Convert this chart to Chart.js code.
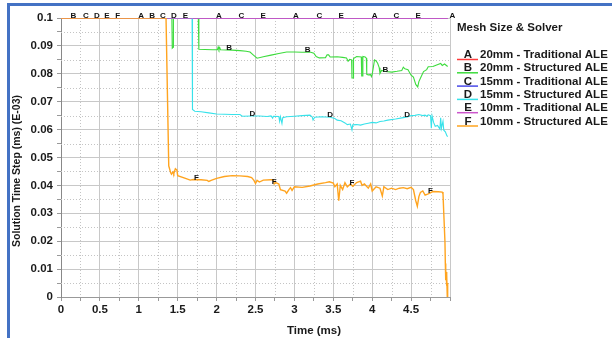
<!DOCTYPE html>
<html>
<head>
<meta charset="utf-8">
<script src="https://cdn.jsdelivr.net/npm/chart.js@4"></script>
<style>
  body { margin: 0; background: #fff; }
  #wrap { position: relative; width: 612px; height: 338px; overflow: hidden; }
  #frame { position: absolute; left: 7px; top: 3px; width: 700px; height: 400px;
           border-left: 3px solid #4472c4; border-top: 3px solid #4472c4; }
  canvas { position: absolute; left: 0; top: 0; }
</style>
</head>
<body>
<div id="wrap">
  <div id="frame"></div>
  <canvas id="myChart" width="612" height="338"></canvas>
</div>
<script>
// -------------------- Data -------------------- //

var seriesLetters = ["A", "B", "C", "D", "E", "F"];
var seriesNames = ["20mm - Traditional ALE", "20mm - Structured ALE", "15mm - Traditional ALE",
  "15mm - Structured ALE", "10mm - Traditional ALE", "10mm - Structured ALE"];
var seriesColors = ["#ff3b3b", "#3ddc3d", "#4a4ae8", "#38e2ea", "#cc55cc", "#ffa41f"];

var xLabels = ["0", "0.5", "1", "1.5", "2", "2.5", "3", "3.5", "4", "4.5"];
var yLabels = ["0", "0.01", "0.02", "0.03", "0.04", "0.05", "0.06", "0.07", "0.08", "0.09", "0.1"];

// traditional ALE runs stay at the max step
var timeA = [0, 4.97];
var stepA = [0.1, 0.1];
var timeC = [0, 4.97];
var stepC = [0.1, 0.1];
var timeE = [0, 4.97];
var stepE = [0.1, 0.1];

var timeB = [0, 1.425, 1.43, 1.44, 1.445, 1.765, 1.772, 1.85, 1.95, 2.01, 2.02, 2.03, 2.04, 2.05,
  2.2, 2.3, 2.38, 2.43, 2.47, 2.52, 2.6, 2.7, 2.8, 2.9, 3.0, 3.1, 3.2, 3.25, 3.28, 3.32, 3.4,
  3.42, 3.44, 3.46, 3.55, 3.62, 3.67, 3.69, 3.71, 3.735, 3.74, 3.755, 3.76, 3.8, 3.86, 3.865,
  3.875, 3.88, 3.91, 3.925, 3.93, 3.95, 3.98, 3.99, 4.0, 4.03, 4.05, 4.07, 4.09, 4.1, 4.12,
  4.17, 4.25, 4.32, 4.38, 4.4, 4.42, 4.46, 4.5, 4.53, 4.56, 4.585, 4.6, 4.63, 4.66, 4.7, 4.72,
  4.78, 4.82, 4.88, 4.9, 4.93, 4.97];
var stepB = [0.1, 0.1, 0.0892, 0.0895, 0.1, 0.1, 0.0888, 0.0887, 0.0886, 0.0886, 0.0896, 0.0887,
  0.0894, 0.0886, 0.0885, 0.0883, 0.0881, 0.0878, 0.0868, 0.0856, 0.0861, 0.0867, 0.0873, 0.0878,
  0.0878, 0.0877, 0.0878, 0.0874, 0.0862, 0.0857, 0.0858, 0.0868, 0.0868, 0.086, 0.0861, 0.0859,
  0.0857, 0.0845, 0.0852, 0.085, 0.0785, 0.0785, 0.0855, 0.0862, 0.086, 0.0792, 0.0792, 0.0862,
  0.086, 0.0856, 0.0798, 0.0796, 0.0797, 0.079, 0.0798, 0.085, 0.0846, 0.0838, 0.0822, 0.0801,
  0.0812, 0.0808, 0.0806, 0.0809, 0.0812, 0.0824, 0.0818, 0.0815, 0.0795, 0.0788, 0.0762,
  0.0753, 0.0772, 0.079, 0.0808, 0.0815, 0.0825, 0.0826, 0.0831, 0.0837, 0.083, 0.0835, 0.0826];

var timeD = [0, 1.685, 1.69, 1.72, 1.8, 1.9, 2.0, 2.1, 2.2, 2.3, 2.33, 2.45, 2.55, 2.65, 2.7,
  2.72, 2.73, 2.8, 2.81, 2.82, 2.84, 2.85, 2.9, 3.0, 3.1, 3.2, 3.23, 3.24, 3.26, 3.35, 3.46,
  3.52, 3.55, 3.6, 3.65, 3.68, 3.72, 3.74, 3.75, 3.8, 3.85, 3.9, 3.95, 4.0, 4.05, 4.1, 4.15,
  4.2, 4.3, 4.4, 4.45, 4.5, 4.55, 4.6, 4.65, 4.68, 4.7, 4.72, 4.75, 4.76, 4.77, 4.79, 4.81,
  4.84, 4.87, 4.88, 4.89, 4.91, 4.92, 4.94, 4.96, 4.97];
var stepD = [0.1, 0.1, 0.0672, 0.0666, 0.0664, 0.066, 0.0656, 0.0655, 0.0654, 0.0654, 0.0648,
  0.0649, 0.0649, 0.0647, 0.0649, 0.0641, 0.0648, 0.0647, 0.063, 0.0646, 0.0622, 0.0643, 0.0646,
  0.0648, 0.065, 0.0652, 0.0645, 0.0634, 0.0644, 0.0646, 0.0644, 0.064, 0.0634, 0.0632, 0.0624,
  0.0618, 0.062, 0.0599, 0.0617, 0.0618, 0.0616, 0.062, 0.0623, 0.0626, 0.0624, 0.0629, 0.0631,
  0.0634, 0.0638, 0.0643, 0.0645, 0.065, 0.0651, 0.0654, 0.065, 0.0652, 0.0648, 0.0653, 0.065,
  0.0605, 0.0649, 0.0625, 0.0612, 0.0615, 0.0602, 0.0642, 0.0605, 0.063, 0.0598, 0.0592,
  0.0578, 0.0575];

var timeF = [0, 1.35, 1.385, 1.39, 1.41, 1.42, 1.44, 1.45, 1.47, 1.49, 1.5, 1.6, 1.66, 1.7, 1.8,
  1.88, 1.9, 1.93, 2.0, 2.1, 2.2, 2.3, 2.4, 2.45, 2.48, 2.5, 2.52, 2.55, 2.6, 2.7, 2.73, 2.74,
  2.76, 2.8, 2.82, 2.88, 2.9, 2.93, 2.95, 2.97, 3.0, 3.1, 3.2, 3.3, 3.4, 3.45, 3.5, 3.52, 3.55,
  3.57, 3.59, 3.62, 3.65, 3.68, 3.72, 3.75, 3.8, 3.85, 3.87, 3.9, 3.95, 3.98, 4.0, 4.05, 4.1,
  4.13, 4.15, 4.2, 4.25, 4.3, 4.35, 4.4, 4.45, 4.5, 4.53, 4.56, 4.58, 4.6, 4.62, 4.65, 4.68,
  4.72, 4.78, 4.85, 4.9, 4.91, 4.92, 4.935, 4.94, 4.945, 4.95, 4.955, 4.96, 4.965, 4.97];
var stepF = [0.1, 0.1, 0.047, 0.0465, 0.0445, 0.044, 0.0448, 0.0442, 0.046, 0.0455, 0.0435,
  0.0425, 0.0419, 0.0421, 0.042, 0.0418, 0.0414, 0.0418, 0.0425, 0.0432, 0.0435, 0.0434, 0.0432,
  0.0428, 0.0418, 0.0407, 0.0418, 0.0412, 0.0419, 0.042, 0.042, 0.0405, 0.041, 0.0405, 0.0385,
  0.038, 0.0372, 0.0385, 0.0392, 0.0382, 0.0395, 0.0393, 0.0398, 0.0405, 0.041, 0.0413, 0.0408,
  0.0395, 0.0405, 0.0345, 0.04, 0.0385, 0.041, 0.0395, 0.0405, 0.0397, 0.041, 0.0415, 0.04,
  0.0405, 0.039, 0.0405, 0.038, 0.0395, 0.039, 0.0362, 0.0395, 0.0385, 0.039, 0.0385, 0.039,
  0.0392, 0.0388, 0.0393, 0.0385, 0.0345, 0.0325, 0.036, 0.0375, 0.038, 0.0365, 0.037, 0.0378,
  0.0377, 0.0376, 0.037, 0.03, 0.02, 0.012, 0.006, 0.009, 0.004, 0.008, 0.0, 0.005];

// curve letters (time in ms where each letter is printed on its curve)
var markerA = [1.03, 2.03, 3.02, 4.03, 5.03];
var markerB = [0.16, 1.17, 2.16, 3.17, 4.17];
var markerC = [0.32, 1.31, 2.32, 3.32, 4.31];
var markerD = [0.46, 1.45, 2.46, 3.46, 4.45];
var markerE = [0.59, 1.6, 2.6, 3.6, 4.59];
var markerF = [0.73, 1.74, 2.74, 3.74, 4.75];

var allTimes = [timeA, timeB, timeC, timeD, timeE, timeF];
var allSteps = [stepA, stepB, stepC, stepD, stepE, stepF];
var allMarkers = [markerA, markerB, markerC, markerD, markerE, markerF];
var lineWidths = [1, 1.1, 1, 1.1, 1.6, 1.4];

// -------------------- Helpers -------------------- //

function toPoints(t, s) {
  var pts = [];
  for (var i = 0; i < t.length; i++) pts.push({ x: t[i], y: s[i] });
  return pts;
}

function interp(t, s, x) {        // value of a curve at time x
  if (x <= t[0]) return s[0];
  for (var i = 0; i < t.length - 1; i++) {
    if (x >= t[i] && x <= t[i + 1]) {
      if (t[i + 1] == t[i]) return s[i];
      return s[i] + (s[i + 1] - s[i]) * (x - t[i]) / (t[i + 1] - t[i]);
    }
  }
  return s[s.length - 1];
}

function fmt(v) { return String(+v.toFixed(3)); }
function isMajorX(v) { return Math.abs(v * 2 - Math.round(v * 2)) < 1e-6; }
function isMajorY(v) { return Math.abs(v * 100 - Math.round(v * 100)) < 1e-6; }

var font = "'Liberation Sans', Arial, sans-serif";
Chart.defaults.font.family = font;
Chart.defaults.color = "#1a1a1a";

// -------------------- Plugins -------------------- //

var minorGrid = {               // dotted minor grid lines
  id: "minorGrid",
  beforeDatasetsDraw: function (chart) {
    var ctx = chart.ctx, area = chart.chartArea;
    var xs = chart.scales.x, ys = chart.scales.y;
    ctx.save();
    ctx.strokeStyle = "#c4c4c4";
    ctx.lineWidth = 1;
    ctx.setLineDash([1, 2]);
    xs.ticks.forEach(function (t) {
      if (isMajorX(t.value)) return;
      var px = Math.round(xs.getPixelForValue(t.value)) + 0.5;
      ctx.beginPath(); ctx.moveTo(px, area.top); ctx.lineTo(px, area.bottom); ctx.stroke();
    });
    ys.ticks.forEach(function (t) {
      if (isMajorY(t.value)) return;
      var py = Math.round(ys.getPixelForValue(t.value)) + 0.5;
      ctx.beginPath(); ctx.moveTo(area.left, py); ctx.lineTo(area.right, py); ctx.stroke();
    });
    ctx.restore();
  }
};

var curveLetters = {            // letters printed along each curve
  id: "curveLetters",
  afterDatasetsDraw: function (chart) {
    var ctx = chart.ctx, xs = chart.scales.x, ys = chart.scales.y;
    ctx.save();
    ctx.font = "bold 8px " + font;
    ctx.fillStyle = "#111";
    ctx.textAlign = "center";
    ctx.textBaseline = "alphabetic";
    for (var i = 0; i < allMarkers.length; i++) {
      allMarkers[i].forEach(function (x) {
        var y = interp(allTimes[i], allSteps[i], x);
        ctx.fillText(seriesLetters[i], xs.getPixelForValue(x), ys.getPixelForValue(y));
      });
    }
    ctx.restore();
  }
};

var sideLegend = {              // legend box + axis titles
  id: "sideLegend",
  afterDraw: function (chart) {
    var ctx = chart.ctx, area = chart.chartArea;
    var lx = area.right + 7;
    ctx.save();
    ctx.fillStyle = "#1a1a1a";
    ctx.font = "bold 11.5px " + font;
    ctx.textAlign = "left";
    ctx.fillText("Mesh Size & Solver", lx, 31);
    for (var i = 0; i < seriesNames.length; i++) {
      var y = 58 + i * 13.3;
      ctx.strokeStyle = seriesColors[i];
      ctx.lineWidth = 1.5;
      ctx.beginPath(); ctx.moveTo(lx, y + 1.5); ctx.lineTo(lx + 21, y + 1.5); ctx.stroke();
      ctx.textAlign = "center";
      ctx.fillText(seriesLetters[i], lx + 11, y);
      ctx.textAlign = "left";
      ctx.fillText(seriesNames[i], lx + 23, y);
    }
    ctx.textAlign = "center";
    ctx.fillText("Time (ms)", 314, 334);
    // y title is centred on the whole picture height, not on the plot
    ctx.font = "bold 10.5px " + font;
    ctx.translate(20, chart.height / 2 + 2);
    ctx.rotate(-Math.PI / 2);
    ctx.fillText("Solution Time Step (ms) (E-03)", 0, 0);
    ctx.restore();
  }
};

// -------------------- Chart -------------------- //

var datasets = [];
for (var i = 0; i < seriesLetters.length; i++) {
  datasets.push({
    label: seriesLetters[i] + " " + seriesNames[i],
    data: toPoints(allTimes[i], allSteps[i]),
    borderColor: seriesColors[i],
    borderWidth: lineWidths[i],
    pointRadius: 0,
    tension: 0,
    fill: false,
    order: seriesLetters.length - 1 - i   // F on top, A underneath
  });
}

var chart = new Chart(document.getElementById("myChart").getContext("2d"), {
  type: "line",
  data: { datasets: datasets },
  plugins: [minorGrid, curveLetters, sideLegend],
  options: {
    responsive: false,
    animation: false,
    devicePixelRatio: 1,
    layout: { padding: { left: 6, right: 162, top: 18, bottom: 0 } },
    plugins: { legend: { display: false }, tooltip: { enabled: false } },
    scales: {
      x: {
        type: "linear",
        min: 0,
        max: 5,
        afterFit: function (s) { s.height = 41; },
        ticks: {
          stepSize: 0.25,
          autoSkip: false,
          maxRotation: 0,
          minRotation: 0,
          padding: 2,
          font: { size: 11.5, weight: "bold" },
          callback: function (v) { var s = fmt(v); return xLabels.indexOf(s) >= 0 ? s : ""; }
        },
        grid: {
          color: function (c) { return isMajorX(c.tick.value) ? "#c8c8c8" : "rgba(0,0,0,0)"; },
          tickColor: "#999",
          tickLength: 4
        },
        border: { color: "#999" }
      },
      y: {
        min: 0,
        max: 0.1,
        afterFit: function (s) { s.width = 55; },
        ticks: {
          stepSize: 0.005,
          autoSkip: false,
          padding: 4,
          font: { size: 11.5, weight: "bold" },
          callback: function (v) { var s = fmt(v); return yLabels.indexOf(s) >= 0 ? s : ""; }
        },
        grid: {
          color: function (c) { return isMajorY(c.tick.value) ? "#c8c8c8" : "rgba(0,0,0,0)"; },
          tickColor: "#999",
          tickLength: 4
        },
        border: { color: "#888" }
      }
    }
  }
});
</script>
</body>
</html>
